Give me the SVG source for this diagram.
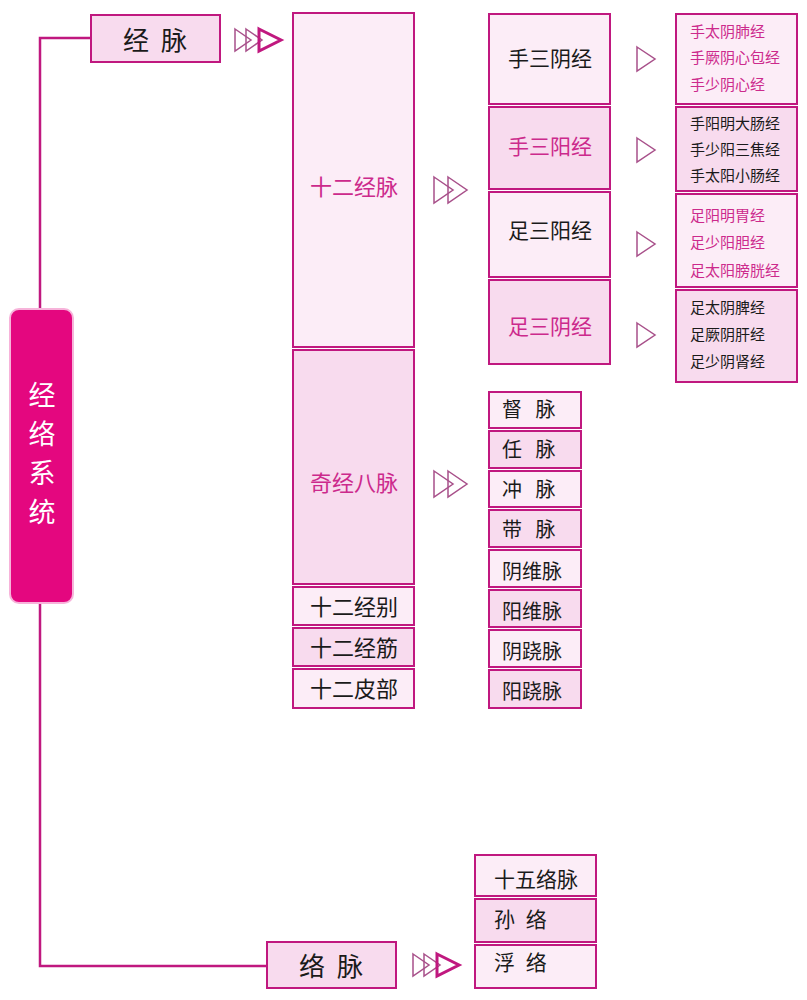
<svg xmlns="http://www.w3.org/2000/svg" width="807" height="1000" viewBox="0 0 807 1000">
<style>
text{font-family:"Noto Sans CJK SC","Noto Sans",sans-serif;dominant-baseline:central}
.b{stroke:#c0187f;stroke-width:2}
.l{fill:#fcedf7}
.m{fill:#f8dbee}
.k{fill:#1a1a1a}
.p{fill:#cc2a8c}
.c{text-anchor:middle}
.f22{font-size:22px}
.f21{font-size:21px}
.f20{font-size:20px}
.f15{font-size:15px}
.tri{fill:none;stroke:#a8508a;stroke-width:1.5}
.tri2{fill:none;stroke:#c0187f;stroke-width:3}
</style>
<rect width="807" height="1000" fill="#ffffff"/>
<g id="connectors">
<polyline points="91,38 40,38 40,309" fill="none" stroke="#c0187f" stroke-width="2.5"/>
<polyline points="40,603 40,966 267,966" fill="none" stroke="#c0187f" stroke-width="2.5"/>
<g id="arrow-jingmai">
<polygon class="tri" points="235,29 251,40 235,51"/>
<polygon class="tri" points="246,29 262,40 246,51"/>
<polygon class="tri2" points="259,29 281,40 259,51"/>
</g>
<g id="arrow-luomai">
<polygon class="tri" points="413,954 429,965 413,976"/>
<polygon class="tri" points="424,954 440,965 424,976"/>
<polygon class="tri2" points="437,954 459,965 437,976"/>
</g>
<g id="arrow-12">
<polygon class="tri" points="434,177 453,190 434,203"/>
<polygon class="tri" points="448,177 467,190 448,203"/>
</g>
<g id="arrow-8">
<polygon class="tri" points="434,471 453,484 434,497"/>
<polygon class="tri" points="448,471 467,484 448,497"/>
</g>
<polygon class="tri" points="637,47 655,59 637,71"/>
<polygon class="tri" points="637,138 655,150 637,162"/>
<polygon class="tri" points="637,232 655,244 637,256"/>
<polygon class="tri" points="637,323 655,335 637,347"/>
</g>
<g id="root">
<rect x="10" y="309" width="63" height="294" rx="9" fill="#e4077f" stroke="#f7b3da" stroke-width="2"/>
<text x="42" y="393" fill="#ffffff" font-size="27" class="c">经</text>
<text x="42" y="432" fill="#ffffff" font-size="27" class="c">络</text>
<text x="42" y="471" fill="#ffffff" font-size="27" class="c">系</text>
<text x="42" y="510" fill="#ffffff" font-size="27" class="c">统</text>
</g>
<g id="jingmai">
<rect x="91" y="15" width="129" height="47" class="b m" stroke-width="3"/>
<text x="155" y="38" font-size="26" class="c k" word-spacing="6">经 脉</text>
</g>
<g id="luomai">
<rect x="267" y="942" width="129" height="46" class="b m" stroke-width="3"/>
<text x="331" y="964" font-size="26" class="c k" word-spacing="6">络 脉</text>
</g>
<g id="col2">
<rect x="293" y="13" width="121" height="334" class="b l"/>
<text x="354" y="185" class="c p f22">十二经脉</text>
<rect x="293" y="350" width="121" height="234" class="b m"/>
<text x="354" y="481" class="c p f22">奇经八脉</text>
<rect x="293" y="587" width="121" height="38" class="b l"/>
<text x="354" y="605" class="c k f22">十二经别</text>
<rect x="293" y="628" width="121" height="38" class="b m"/>
<text x="354" y="646" class="c k f22">十二经筋</text>
<rect x="293" y="669" width="121" height="39" class="b l"/>
<text x="354" y="687" class="c k f22">十二皮部</text>
</g>
<g id="col3">
<rect x="489" y="14" width="121" height="90" class="b l"/>
<text x="550" y="57" class="c k f21">手三阴经</text>
<rect x="489" y="107" width="121" height="82" class="b m"/>
<text x="550" y="145" class="c p f21">手三阳经</text>
<rect x="489" y="192" width="121" height="85" class="b l"/>
<text x="550" y="229" class="c k f21">足三阳经</text>
<rect x="489" y="280" width="121" height="84" class="b m"/>
<text x="550" y="325" class="c p f21">足三阴经</text>
</g>
<g id="col4">
<rect x="676" y="14" width="121" height="90" class="b l"/>
<text x="690" y="30" class="p f15">手太阴肺经</text>
<text x="690" y="56" class="p f15">手厥阴心包经</text>
<text x="690" y="83" class="p f15">手少阴心经</text>
<rect x="676" y="107" width="121" height="84" class="b m"/>
<text x="690" y="122" class="k f15">手阳明大肠经</text>
<text x="690" y="148" class="k f15">手少阳三焦经</text>
<text x="690" y="174" class="k f15">手太阳小肠经</text>
<rect x="676" y="194" width="121" height="93" class="b l"/>
<text x="690" y="214" class="p f15">足阳明胃经</text>
<text x="690" y="241" class="p f15">足少阳胆经</text>
<text x="690" y="269" class="p f15">足太阳膀胱经</text>
<rect x="676" y="290" width="121" height="92" class="b m"/>
<text x="690" y="306" class="k f15">足太阴脾经</text>
<text x="690" y="333" class="k f15">足厥阴肝经</text>
<text x="690" y="360" class="k f15">足少阴肾经</text>
</g>
<g id="col8">
<rect x="489" y="392" width="92" height="36" class="b l"/>
<text x="502" y="408" class="k f20" word-spacing="9">督 脉</text>
<rect x="489" y="431" width="92" height="37" class="b m"/>
<text x="502" y="448" class="k f20" word-spacing="9">任 脉</text>
<rect x="489" y="471" width="92" height="36" class="b l"/>
<text x="502" y="488" class="k f20" word-spacing="9">冲 脉</text>
<rect x="489" y="510" width="92" height="37" class="b m"/>
<text x="502" y="528" class="k f20" word-spacing="9">带 脉</text>
<rect x="489" y="550" width="92" height="37" class="b l"/>
<text x="502" y="570" class="k f20">阴维脉</text>
<rect x="489" y="590" width="92" height="37" class="b m"/>
<text x="502" y="610" class="k f20">阳维脉</text>
<rect x="489" y="630" width="92" height="37" class="b l"/>
<text x="502" y="650" class="k f20">阴跷脉</text>
<rect x="489" y="670" width="92" height="38" class="b m"/>
<text x="502" y="690" class="k f20">阳跷脉</text>
</g>
<g id="col-luo">
<rect x="475" y="855" width="121" height="41" class="b l"/>
<text x="494" y="878" class="k f21">十五络脉</text>
<rect x="475" y="899" width="121" height="43" class="b m"/>
<text x="494" y="918" class="k f21" word-spacing="6">孙 络</text>
<rect x="475" y="945" width="121" height="43" class="b l"/>
<text x="494" y="961" class="k f21" word-spacing="6">浮 络</text>
</g>
</svg>
